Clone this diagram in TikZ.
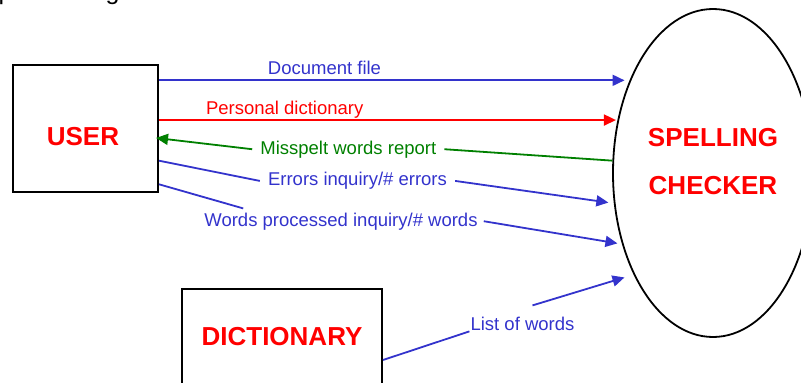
\documentclass[tikz,border=0pt]{standalone}
\usepackage{fontspec}
\setmainfont{Liberation Sans}
\usepackage{tikz}
\usetikzlibrary{arrows.meta,shapes.geometric}
\definecolor{flowblue}{RGB}{51,51,204}
\definecolor{flowgreen}{RGB}{0,128,0}

\begin{document}
\begin{tikzpicture}[x=1pt,y=-1pt,>={Triangle[length=12pt,width=11pt]}
        ,entity/.style = {draw=black,line width=2pt,rectangle,inner sep=0pt}
        ,process/.style = {draw=black,line width=1.8pt,ellipse,inner sep=0pt,minimum width=200pt,minimum height=328pt}
        ,entitytitle/.style = {text=red,font=\fontsize{26}{47.6}\selectfont\bfseries}
        ,flow/.style = {line width=1.8pt}
        ,flowtext/.style = {font=\fontsize{18.5}{22}\selectfont,inner sep=1pt,anchor=base}
      ]
      \useasboundingbox (0,0) rectangle (801,383);

      \node[anchor=base west,inner sep=0pt,font=\fontsize{25}{29}\selectfont] (caption) at (-1.5,-1) {processing};

      \node[entity,minimum width=145pt,minimum height=127pt] (user) at (85.5,128.5) {};
      \node[entitytitle] (usertext) at (83,136.2) {USER};
      \node[process] (spell) at (713,173) {};
      \node[entitytitle,align=center] (spelltext) at (713,161.3) {SPELLING\\CHECKER};
      \node[entity,entitytitle,minimum width=200pt,minimum height=95.4pt] (dict) at (282,336.7) {DICTIONARY};

      \node[flowtext,text=flowblue] (docfile) at (324.5,74) {Document file};
      \draw[->,flow,flowblue,shorten >=5pt] (spell.132 -| user.east) -- (spell.132);

      \node[flowtext,text=red] (persdict) at (284.7,114.3) {Personal dictionary};
      \draw[->,flow,red,shorten >=1.5pt] (spell.151 -| user.east) -- (spell.151);

      \node[flowtext,text=flowgreen,inner xsep=8pt] (misspelt) at (348.3,154) {Misspelt words report};
      \draw[flow,flowgreen] (spell.173) -- (misspelt.east);
      \draw[->,flow,flowgreen,shorten >=-3pt] (misspelt.west) -- ([yshift=-9.8pt]user.east);

      \node[flowtext,text=flowblue,inner xsep=8pt] (errors) at (357.5,185.7) {Errors inquiry/\# errors};
      \draw[flow,flowblue] ([yshift=-32.2pt]user.east) -- (errors.west);
      \draw[->,flow,flowblue,shorten >=5.5pt] (errors.east) -- (spell.197);

      \node[flowtext,text=flowblue,inner xsep=6pt] (wordsproc) at (341,226) {Words processed inquiry/\# words};
      \draw[flow,flowblue] ([yshift=-55.8pt]user.east) -- ([xshift=45pt,yshift=3pt]wordsproc.north west);
      \draw[->,flow,flowblue,shorten >=4.6pt] (wordsproc.east) -- (spell.218);

      \node[flowtext,text=flowblue] (listwords) at (522.5,330) {List of words};
      \draw[flow,flowblue] ([yshift=-23.3pt]dict.east) -- (listwords.south west);
      \draw[->,flow,flowblue,shorten >=9.5pt] ([xshift=10pt,yshift=10pt]listwords.north) -- (spell.232);
    \end{tikzpicture}
\end{document}
